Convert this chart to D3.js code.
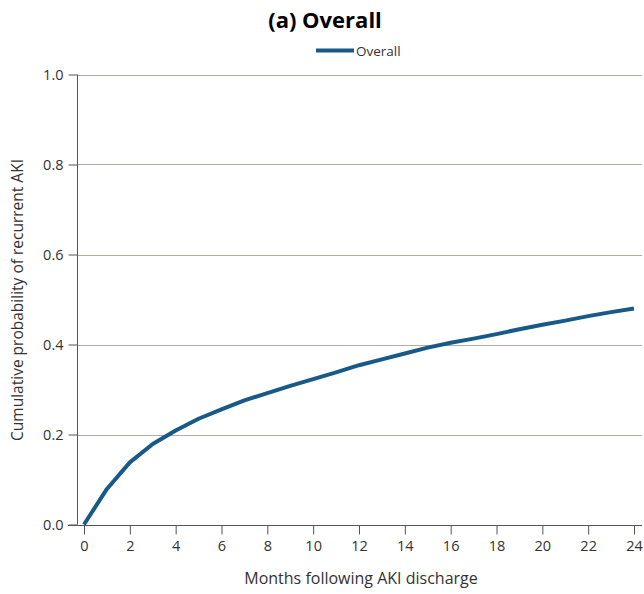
<!DOCTYPE html>
<html><head><meta charset="utf-8">
<script src="https://cdn.jsdelivr.net/npm/d3@7"></script>
<style>body{margin:0;background:#fff}svg{display:block}text{font-family:"Open Sans","Noto Sans",sans-serif}</style>
</head><body><svg id="c" width="644" height="594"></svg>
<script>
const months = [0,1,2,3,4,5,6,7,8,9,10,11,12,13,14,15,16,17,18,19,20,21,22,23,24];
const overall = [0,0.079,0.138,0.179,0.209,0.235,0.256,0.276,0.292,0.308,0.323,0.338,0.354,0.367,0.380,0.393,0.404,0.413,0.423,0.434,0.444,0.453,0.463,0.472,0.480];
const xTicks = [0,2,4,6,8,10,12,14,16,18,20,22,24];
const yTicks = [0,0.2,0.4,0.6,0.8,1.0];
const seriesName = "Overall";

const svg = d3.select("#c");
const x = d3.scaleLinear().domain([0,24]).range([84,634]);
const y = d3.scaleLinear().domain([0,1]).range([524.5,74.5]);
const left = 77, right = 642;

// gridlines
svg.append("g").selectAll("line").data(yTicks.filter(d=>d>0)).join("line")
  .attr("x1",left).attr("x2",right).attr("y1",d=>Math.round(y(d))+0.5).attr("y2",d=>Math.round(y(d))+0.5)
  .attr("stroke","#b5aba1").attr("stroke-width",1);

// y axis
const ya = svg.append("g").attr("transform",`translate(${left+0.5},0)`)
  .call(d3.axisLeft(y).tickValues(yTicks).tickFormat(d3.format(".1f")).tickSize(9).tickPadding(5));
ya.select(".domain").attr("d",`M0,${y(0)}V${y(1)}`).attr("stroke","#555");
ya.selectAll(".tick line").attr("stroke","#555");
ya.selectAll(".tick text").attr("font-size",14.5).attr("fill","#333").attr("font-family","Open Sans");

// x axis
const xa = svg.append("g").attr("transform",`translate(0,${Math.round(y(0))+0.5})`)
  .call(d3.axisBottom(x).tickValues(xTicks).tickSize(9).tickPadding(6));
xa.select(".domain").attr("d",`M68,0H${right}`).attr("stroke","#555");
xa.selectAll(".tick line").attr("stroke","#555");
xa.selectAll(".tick text").attr("font-size",14.5).attr("fill","#333").attr("font-family","Open Sans");

// line
svg.append("path").datum(months.map((m,i)=>[m,overall[i]]))
  .attr("fill","none").attr("stroke","#175a87").attr("stroke-width",4)
  .attr("stroke-linejoin","round")
  .attr("d",d3.line().x(d=>x(d[0])).y(d=>y(d[1])));

// title
svg.append("text").attr("x",325).attr("y",28).attr("text-anchor","middle")
  .attr("font-size",22).attr("font-weight","bold").attr("fill","#000").text("(a) Overall");

// legend
svg.append("line").attr("x1",316).attr("x2",354).attr("y1",50.5).attr("y2",50.5)
  .attr("stroke","#175a87").attr("stroke-width",4);
svg.append("text").attr("x",356).attr("y",55.5).attr("font-size",13.5).attr("fill","#333").text(seriesName);

// axis titles
svg.append("text").attr("x",361).attr("y",584).attr("text-anchor","middle")
  .attr("font-size",16).attr("fill","#333").text("Months following AKI discharge");
svg.append("text").attr("transform","translate(23,300) rotate(-90)").attr("text-anchor","middle")
  .attr("font-size",15.5).attr("fill","#333").text("Cumulative probability of recurrent AKI");
</script></body></html>
